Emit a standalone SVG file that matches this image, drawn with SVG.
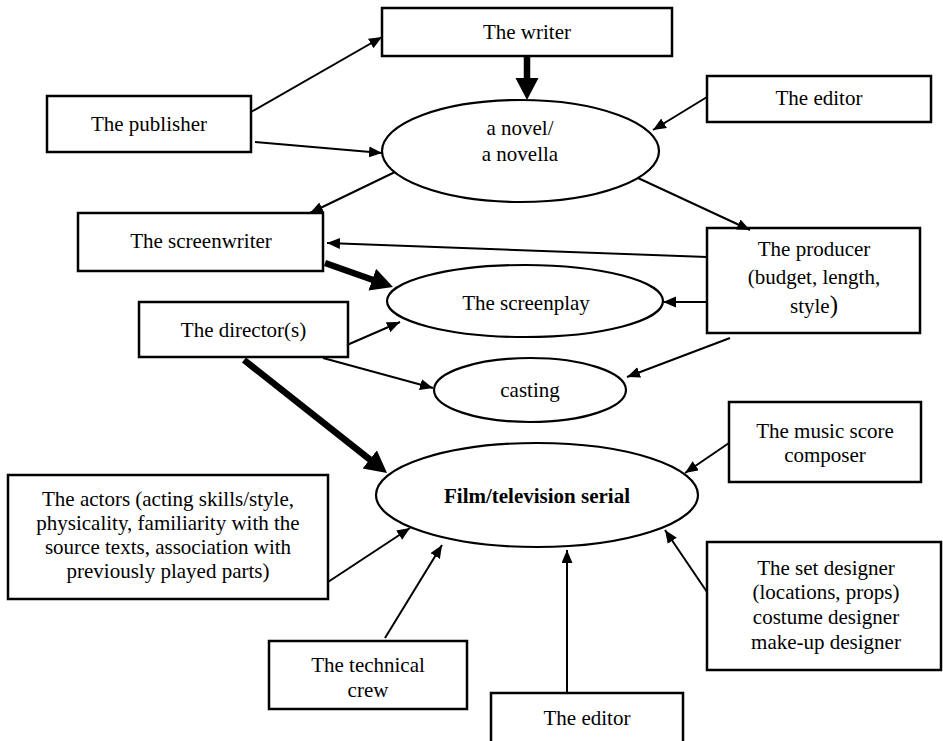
<svg xmlns="http://www.w3.org/2000/svg" width="943" height="741" viewBox="0 0 943 741">
<style>
  .box { fill: #fff; stroke: #000; stroke-width: 2.5; }
  .ell { fill: #fff; stroke: #000; stroke-width: 2.2; }
  text { font-family: "Liberation Serif", "Times New Roman", serif; font-size: 21px; fill: #000; text-anchor: middle; }
  .bold { font-weight: bold; }
  .thin { stroke: #000; stroke-width: 2; fill: none; marker-end: url(#ah); }
  .thick { stroke: #000; stroke-width: 6.5; fill: none; marker-end: url(#ahb); }
</style>
<defs>
  <marker id="ah" markerUnits="userSpaceOnUse" markerWidth="14" markerHeight="12" refX="13" refY="5.5" orient="auto">
    <path d="M0,0 L13,5.5 L0,11 z" fill="#000"/>
  </marker>
  <marker id="ahb" markerUnits="userSpaceOnUse" markerWidth="24" markerHeight="24" refX="10" refY="11.5" orient="auto">
    <path d="M0,0 L22,11.5 L0,23 z" fill="#000"/>
  </marker>
</defs>
<rect width="943" height="741" fill="#fff"/>

<g id="n-writer"><rect class="box" x="382" y="8" width="290" height="48"/><text x="527" y="39">The writer</text></g>
<g id="n-publisher"><rect class="box" x="47" y="96" width="204" height="56"/><text x="149" y="131">The publisher</text></g>
<g id="n-editor-top"><rect class="box" x="707" y="76" width="224" height="46"/><text x="819" y="105">The editor</text></g>
<g id="n-novel"><ellipse class="ell" cx="520.5" cy="151" rx="138.5" ry="51"/><text x="520" y="135">a novel/</text><text x="520" y="161">a novella</text></g>
<g id="n-screenwriter"><rect class="box" x="78" y="213" width="245" height="58"/><text x="201" y="248">The screenwriter</text></g>
<g id="n-producer"><rect class="box" x="707" y="228" width="213" height="105"/><text x="814" y="256">The producer</text><text x="814" y="284">(budget, length,</text><text x="814" y="313">style<tspan style="font-size:25px">)</tspan></text></g>
<g id="n-screenplay"><ellipse class="ell" cx="525" cy="301" rx="138" ry="36"/><text x="526" y="310">The screenplay</text></g>
<g id="n-director"><rect class="box" x="139" y="302" width="209" height="55"/><text x="243.5" y="337">The director(s)</text></g>
<g id="n-casting"><ellipse class="ell" cx="530" cy="390" rx="96" ry="32"/><text x="530" y="397">casting</text></g>
<g id="n-film"><ellipse class="ell" cx="537" cy="495" rx="161" ry="52"/><text class="bold" x="537" y="503">Film/television serial</text></g>
<g id="n-music"><rect class="box" x="729" y="402" width="192" height="80"/><text x="825" y="438">The music score</text><text x="825" y="462">composer</text></g>
<g id="n-actors"><rect class="box" x="8" y="475" width="320" height="124"/><text x="168" y="506">The actors (acting skills/style,</text><text x="168" y="530">physicality, familiarity with the</text><text x="168" y="554">source texts, association with</text><text x="168" y="578">previously played parts)</text></g>
<g id="n-technical"><rect class="box" x="269" y="641" width="198" height="68"/><text x="368" y="672">The technical</text><text x="368" y="697">crew</text></g>
<g id="n-setdesigner"><rect class="box" x="707" y="542" width="234" height="128"/><text x="826" y="575">The set designer</text><text x="826" y="599">(locations, props)</text><text x="826" y="624">costume designer</text><text x="826" y="649">make-up designer</text></g>
<g id="n-editor-bottom"><rect class="box" x="491" y="693" width="192" height="60"/><text x="587" y="725">The editor</text></g>

<g id="connectors">
  <line class="thick" x1="527" y1="56" x2="527" y2="88"/>
  <line class="thick" x1="325" y1="263" x2="381.7" y2="283"/>
  <line class="thick" x1="244" y1="360" x2="377.6" y2="465.6"/>
  <line class="thin" x1="251" y1="112" x2="382" y2="37"/>
  <line class="thin" x1="255" y1="142" x2="382" y2="153"/>
  <line class="thin" x1="707" y1="97" x2="653" y2="130"/>
  <line class="thin" x1="395" y1="172" x2="310" y2="213"/>
  <line class="thin" x1="638" y1="178" x2="750" y2="230"/>
  <line class="thin" x1="707" y1="257" x2="327" y2="243"/>
  <line class="thin" x1="707" y1="302" x2="663" y2="302"/>
  <line class="thin" x1="347" y1="345" x2="400" y2="322"/>
  <line class="thin" x1="323" y1="358" x2="433" y2="388"/>
  <line class="thin" x1="730" y1="338" x2="627" y2="377"/>
  <line class="thin" x1="729" y1="443" x2="685" y2="473"/>
  <line class="thin" x1="328" y1="582" x2="410" y2="528"/>
  <line class="thin" x1="385" y1="638" x2="442" y2="545"/>
  <line class="thin" x1="567" y1="692" x2="567" y2="550"/>
  <line class="thin" x1="707" y1="592" x2="665" y2="530"/>
</g>
</svg>
